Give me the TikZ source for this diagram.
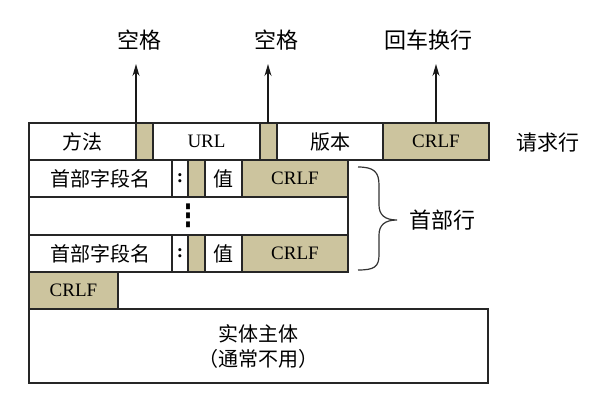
\documentclass[tikz,border=0pt]{standalone}
\usepackage{fontspec}
\setmainfont{Liberation Serif}
\newfontfamily\cjk{Noto Sans CJK SC}
\newfontfamily\dvs{DejaVu Sans}
\usetikzlibrary{arrows.meta}
\definecolor{tanfill}{RGB}{204,196,158}
\begin{document}
\begin{tikzpicture}[x=1pt,y=-1pt,
  cell/.style={draw=black!85, line width=1.2pt, fill=white, inner sep=0pt, outer sep=0pt,
    anchor=north west, font=\cjk\fontsize{20}{25}\selectfont},
  tanc/.style={cell, fill=tanfill},
  lat/.style={font=\fontsize{19}{22}\selectfont},
  lbl/.style={font=\cjk\fontsize{22}{26}\selectfont},
  arr/.style={line width=1.3pt, black!90, -{Stealth[length=12pt,width=7pt]}}]
\useasboundingbox (0,0) rectangle (602,401);
% request line
\node[cell, minimum width=107pt, minimum height=37pt] (meth) at (29,123) {方法};
\node[tanc, minimum width=17pt, minimum height=37pt] (sp1) at (136,123) {};
\node[cell, lat, minimum width=107pt, minimum height=37pt] (url) at (153,123) {URL};
\node[tanc, minimum width=17pt, minimum height=37pt] (sp2) at (260,123) {};
\node[cell, minimum width=106pt, minimum height=37pt] (ver) at (277,123) {版本};
\node[tanc, lat, minimum width=106pt, minimum height=37pt] (crlf0) at (383,123) {CRLF};
% header line 1
\node[cell, minimum width=143pt, minimum height=37pt] (hn1) at (29,160) {首部字段名};
\node[cell, lat, minimum width=16pt, minimum height=37pt] (hc1) at (172,160) {\bfseries :};
\node[tanc, minimum width=17pt, minimum height=37pt] (hs1) at (188,160) {};
\node[cell, minimum width=37pt, minimum height=37pt] (hv1) at (205,160) {值};
\node[tanc, lat, minimum width=106pt, minimum height=37pt] (hcr1) at (242,160) {CRLF};
% blank row
\node[cell, font=\dvs\bfseries\fontsize{22}{24}\selectfont, minimum width=319pt, minimum height=38pt] (blank) at (29,197) {\scalebox{1}[1.4]{⋮}};
% header line 2
\node[cell, minimum width=143pt, minimum height=37pt] (hn2) at (29,235) {首部字段名};
\node[cell, lat, minimum width=16pt, minimum height=37pt] (hc2) at (172,235) {\bfseries :};
\node[tanc, minimum width=17pt, minimum height=37pt] (hs2) at (188,235) {};
\node[cell, minimum width=37pt, minimum height=37pt] (hv2) at (205,235) {值};
\node[tanc, lat, minimum width=106pt, minimum height=37pt] (hcr2) at (242,235) {CRLF};
% final CRLF
\node[tanc, lat, minimum width=89pt, minimum height=37pt] (crlf3) at (29,272) {CRLF};
% body
\node[cell, align=center, minimum width=459pt, minimum height=74pt] (body) at (29,309) {实体主体\\（通常不用）};
% labels above
\node[lbl] (k1) at (139,40) {空格};
\node[lbl] (k2) at (276,40) {空格};
\node[lbl] (k3) at (428,40) {回车换行};
\coordinate (t1) at (136,64);
\coordinate (t2) at (268,64);
\coordinate (t3) at (436,64);
\draw[arr] (sp1.north west) -- (t1);
\draw[arr] (sp2.north -| t2) -- (t2);
\draw[arr] (crlf0.north -| t3) -- (t3);
% right labels
\node[font=\cjk\fontsize{21}{25}\selectfont] (req) at (548,143) {请求行};
\draw[line width=1.2pt, black!80] (358,167) .. controls (374,167) and (379,172) .. (379,185)
  -- (379,205) .. controls (379,215) and (385,220) .. (397,220)
  .. controls (385,220) and (379,225) .. (379,235)
  -- (379,255) .. controls (379,267) and (374,270) .. (358,270);
\node[lbl] (hdr) at (442,220) {首部行};
\end{tikzpicture}
\end{document}
